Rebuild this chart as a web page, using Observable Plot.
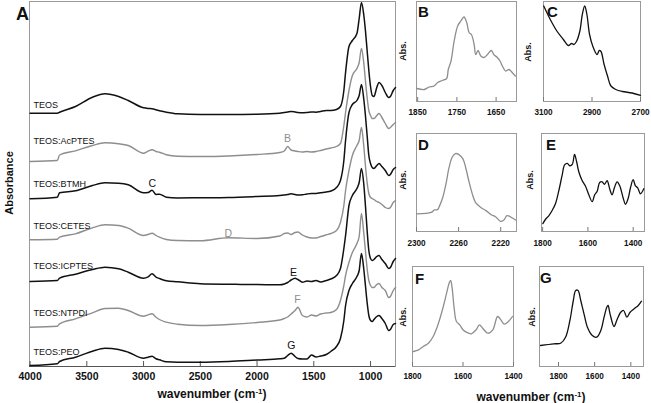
<!DOCTYPE html>
<html><head><meta charset="utf-8">
<script src="https://cdn.jsdelivr.net/npm/d3@7"></script>
<script src="https://cdn.jsdelivr.net/npm/@observablehq/plot@0.6"></script>
<style>
body{margin:0;background:#fff;}
#wrap{position:relative;width:651px;height:403px;overflow:hidden;font-family:"Liberation Sans",Arial,sans-serif;}
.pane{position:absolute;}
svg{overflow:visible}
</style></head><body>
<div id="wrap">
  <div id="main" class="pane" style="left:0;top:0"></div>
  <div id="pB" class="pane" style="left:414px;top:0px"></div>
  <div id="pC" class="pane" style="left:541px;top:0px"></div>
  <div id="pD" class="pane" style="left:414px;top:132px"></div>
  <div id="pE" class="pane" style="left:539px;top:132px"></div>
  <div id="pF" class="pane" style="left:410px;top:265px"></div>
  <div id="pG" class="pane" style="left:537px;top:265px"></div>
  <svg id="ann" width="651" height="403" style="position:absolute;left:0;top:0;pointer-events:none" font-family="Liberation Sans, Arial, sans-serif" fill="#111">
    <text x="16" y="20" font-size="18" font-weight="bold">A</text>
    <text transform="translate(12.5,183) rotate(-90)" text-anchor="middle" font-size="11" font-weight="bold">Absorbance</text>
    <text x="212" y="398" text-anchor="middle" font-size="12" font-weight="bold">wavenumber (cm<tspan dy="-4" font-size="8">-1</tspan><tspan dy="4">)</tspan></text>
    <text x="531" y="401" text-anchor="middle" font-size="12" font-weight="bold">wavenumber (cm<tspan dy="-4" font-size="8">-1</tspan><tspan dy="4">)</tspan></text>
    <g font-size="9" font-weight="bold" text-anchor="middle">
      <text transform="translate(406,51) rotate(-90)">Abs.</text>
      <text transform="translate(531,52) rotate(-90)">Abs.</text>
      <text transform="translate(406,180) rotate(-90)">Abs.</text>
      <text transform="translate(533,180) rotate(-90)">Abs.</text>
      <text transform="translate(406,317) rotate(-90)">Abs.</text>
      <text transform="translate(535,317) rotate(-90)">Abs.</text>
    </g>
    <g font-size="15" font-weight="bold">
      <text x="418" y="17">B</text>
      <text x="547" y="17">C</text>
      <text x="418" y="150">D</text>
      <text x="546" y="150">E</text>
      <text x="415" y="284">F</text>
      <text x="540" y="283">G</text>
    </g>
  </svg>
</div>
<script>
// ---------- main panel data ----------
const names = ["TEOS","TEOS:AcPTES","TEOS:BTMH","TEOS:CETES","TEOS:ICPTES","TEOS:NTPDI","TEOS:PEO"];
const offsets = [2.533, 2.05, 1.677, 1.267, 0.85, 0.393, 0.01];
const xTicks = [4000, 3500, 3000, 2500, 2000, 1500, 1000];
const wn = [4000, 3760, 3740, 3600, 3450, 3340, 3220, 3135, 3000, 2960, 2925, 2890, 2860, 2800, 2700, 2500, 2250, 2000, 1800, 1760, 1730, 1700, 1665, 1640, 1600, 1560, 1520, 1480, 1440, 1390, 1350, 1300, 1265, 1235, 1220, 1190, 1160, 1120, 1100, 1080, 1060, 1045, 1030, 1015, 1000, 985, 970, 945, 925, 900, 870, 840, 825, 800, 780];
const teos = [0, 0, 0.01, 0.067, 0.16, 0.194, 0.167, 0.127, 0.054, 0.047, 0.044, 0.034, 0.024, 0.01, -0.006, -0.013, -0.013, -0.01, 0, 0.007, 0.012, 0.017, 0.012, 0.007, 0.004, 0.007, 0.012, 0.01, 0.017, 0.027, 0.027, 0.037, 0.067, 0.227, 0.407, 0.667, 0.727, 0.797, 0.947, 1.107, 0.987, 0.827, 0.627, 0.427, 0.267, 0.177, 0.167, 0.257, 0.307, 0.277, 0.207, 0.157, 0.167, 0.227, 0.257];
const acptes = [0, 0.01, 0.065, 0.107, 0.16, 0.187, 0.177, 0.16, 0.083, 0.103, 0.117, 0.1, 0.093, 0.067, 0.053, 0.05, 0.055, 0.07, 0.09, 0.105, 0.15, 0.115, 0.105, 0.1, 0.095, 0.1, 0.095, 0.1, 0.11, 0.125, 0.135, 0.15, 0.18, 0.36, 0.49, 0.71, 0.86, 0.93, 0.99, 1.13, 0.99, 0.81, 0.64, 0.51, 0.46, 0.43, 0.43, 0.46, 0.48, 0.44, 0.38, 0.33, 0.34, 0.37, 0.39];
const btmh = [0, 0.016, 0.06, 0.08, 0.133, 0.16, 0.156, 0.14, 0.06, 0.063, 0.086, 0.043, 0.046, 0.016, 0.008, 0.01, 0.013, 0.023, 0.033, 0.038, 0.043, 0.05, 0.043, 0.038, 0.04, 0.048, 0.053, 0.053, 0.06, 0.068, 0.078, 0.113, 0.183, 0.383, 0.583, 0.863, 0.943, 0.983, 1.033, 1.143, 1.003, 0.833, 0.633, 0.433, 0.353, 0.313, 0.303, 0.333, 0.353, 0.323, 0.283, 0.233, 0.243, 0.293, 0.313];
const cetes = [0, 0.006, 0.026, 0.06, 0.12, 0.15, 0.143, 0.116, 0.043, 0.053, 0.066, 0.043, 0.026, 0.003, -0.007, -0.01, 0.02, 0.013, 0.038, 0.063, 0.068, 0.053, 0.073, 0.078, 0.048, 0.028, 0.018, 0.018, 0.033, 0.05, 0.063, 0.093, 0.173, 0.343, 0.493, 0.693, 0.843, 0.943, 0.993, 1.123, 0.943, 0.743, 0.573, 0.463, 0.423, 0.413, 0.403, 0.383, 0.373, 0.353, 0.323, 0.313, 0.323, 0.373, 0.393];
const icptes = [0, 0.01, 0.033, 0.073, 0.12, 0.143, 0.127, 0.093, 0.033, 0.047, 0.077, 0.043, 0.03, 0.007, -0.003, -0.023, -0.028, -0.03, -0.033, -0.025, -0.01, 0.015, 0.033, 0.02, -0.007, 0.005, 0, 0.01, -0.005, 0.01, 0.025, 0.06, 0.13, 0.33, 0.46, 0.76, 0.86, 0.93, 0.99, 1.13, 0.98, 0.76, 0.51, 0.31, 0.23, 0.21, 0.22, 0.25, 0.26, 0.22, 0.18, 0.13, 0.14, 0.2, 0.23];
const ntpdi = [0, 0.01, 0.034, 0.084, 0.144, 0.187, 0.19, 0.167, 0.11, 0.124, 0.134, 0.1, 0.077, 0.05, 0.03, 0.017, 0.027, 0.047, 0.072, 0.087, 0.102, 0.132, 0.167, 0.2, 0.117, 0.102, 0.122, 0.112, 0.132, 0.142, 0.147, 0.177, 0.267, 0.417, 0.517, 0.647, 0.747, 0.837, 0.907, 1.137, 0.947, 0.767, 0.587, 0.467, 0.417, 0.397, 0.397, 0.427, 0.437, 0.397, 0.367, 0.297, 0.307, 0.367, 0.397];
const peo = [0, 0.017, 0.04, 0.083, 0.143, 0.173, 0.16, 0.133, 0.073, 0.083, 0.093, 0.067, 0.057, 0.037, 0.033, 0.033, 0.04, 0.055, 0.067, 0.073, 0.1, 0.123, 0.09, 0.07, 0.065, 0.065, 0.105, 0.085, 0.095, 0.11, 0.14, 0.19, 0.27, 0.45, 0.6, 0.75, 0.82, 0.89, 0.95, 1.12, 0.97, 0.8, 0.63, 0.5, 0.45, 0.44, 0.46, 0.49, 0.5, 0.47, 0.42, 0.35, 0.36, 0.41, 0.42];
const spectra = [teos, acptes, btmh, cetes, icptes, ntpdi, peo];

// peak markers in main panel (letter, wavenumber, series index)
const peakLetters = ["B", "C", "D", "E", "F", "G"];
const peakWn = [1732, 2923, 2253, 1679, 1644, 1697];
const peakSeries = [1, 2, 3, 4, 5, 6];

// ---------- inset data ----------
const bWn = [1852, 1833, 1821, 1808, 1799, 1787, 1776, 1772, 1765, 1757, 1748, 1740, 1732, 1725, 1719, 1713, 1706, 1702, 1696, 1689, 1681, 1672, 1662, 1656, 1647, 1640, 1634, 1626, 1617, 1609, 1601];
const bAbs = [0.13, 0.12, 0.145, 0.155, 0.19, 0.21, 0.23, 0.32, 0.405, 0.605, 0.755, 0.805, 0.845, 0.79, 0.69, 0.67, 0.57, 0.47, 0.51, 0.455, 0.44, 0.47, 0.51, 0.47, 0.44, 0.405, 0.355, 0.305, 0.32, 0.29, 0.255];
const cWn = [3099, 3072, 3045, 3018, 2998, 2984, 2975, 2964, 2950, 2940, 2930, 2921, 2910, 2897, 2879, 2870, 2863, 2850, 2836, 2822, 2802, 2775, 2735, 2700];
const cAbs = [0.955, 0.82, 0.705, 0.62, 0.56, 0.58, 0.57, 0.6, 0.705, 0.87, 0.955, 0.87, 0.67, 0.555, 0.47, 0.51, 0.5, 0.37, 0.255, 0.155, 0.12, 0.1, 0.085, 0.062];
const dWn = [2300, 2286, 2283, 2280, 2278, 2275, 2272, 2269, 2266, 2263, 2260, 2256, 2253, 2250, 2247, 2244, 2239, 2234, 2229, 2225, 2220, 2217, 2214, 2209, 2206];
const dAbs = [0.18, 0.195, 0.22, 0.223, 0.264, 0.35, 0.487, 0.657, 0.76, 0.795, 0.787, 0.743, 0.64, 0.503, 0.384, 0.298, 0.246, 0.213, 0.171, 0.151, 0.103, 0.117, 0.161, 0.138, 0.117];
const eWn = [1799, 1787, 1773, 1758, 1743, 1729, 1714, 1703, 1691, 1680, 1669, 1659, 1650, 1640, 1625, 1611, 1596, 1581, 1570, 1559, 1548, 1537, 1527, 1515, 1503, 1493, 1483, 1471, 1459, 1444, 1434, 1422, 1412, 1400, 1390, 1380, 1368, 1353];
const eAbs = [0.08, 0.125, 0.16, 0.214, 0.286, 0.411, 0.572, 0.679, 0.696, 0.671, 0.685, 0.786, 0.714, 0.607, 0.518, 0.465, 0.375, 0.304, 0.375, 0.411, 0.5, 0.507, 0.482, 0.518, 0.428, 0.375, 0.446, 0.507, 0.465, 0.339, 0.278, 0.339, 0.446, 0.529, 0.465, 0.446, 0.385, 0.436];
const fWn = [1796, 1776, 1757, 1737, 1718, 1704, 1691, 1678, 1665, 1655, 1649, 1643, 1635, 1626, 1613, 1600, 1587, 1567, 1548, 1535, 1522, 1502, 1482, 1463, 1450, 1437, 1420, 1404];
const fAbs = [0.15, 0.167, 0.2, 0.233, 0.3, 0.383, 0.483, 0.6, 0.733, 0.833, 0.86, 0.783, 0.583, 0.45, 0.417, 0.367, 0.343, 0.327, 0.367, 0.417, 0.383, 0.333, 0.367, 0.5, 0.467, 0.423, 0.45, 0.5];
const gWn = [1899, 1826, 1788, 1761, 1737, 1718, 1705, 1692, 1677, 1659, 1640, 1613, 1589, 1566, 1548, 1533, 1526, 1515, 1493, 1478, 1456, 1440, 1422, 1404, 1382, 1359, 1341];
const gAbs = [0.21, 0.227, 0.233, 0.293, 0.46, 0.66, 0.76, 0.76, 0.66, 0.527, 0.393, 0.31, 0.293, 0.36, 0.493, 0.593, 0.61, 0.527, 0.4, 0.46, 0.543, 0.56, 0.493, 0.543, 0.577, 0.61, 0.653];

// ---------- styling / layout ----------
const BLACK = "#111";
const GRAY = "#8e8e8e";
const FONT = "Liberation Sans, Arial, sans-serif";
const nameLift = [0.077, 0.2, 0.148, 0.133, 0.155, 0.142, 0.135];
const letterLift = [0.23, 0.153, 0.063, 0.09, 0.277, 0.2];
const colorOf = i => (i % 2 ? GRAY : BLACK);

const rows = names.flatMap((n, i) => wn.map((w, j) => ({series: n, i, wn: w, a: spectra[i][j] + offsets[i]})));

const main = Plot.plot({
  width: 400, height: 385,
  marginLeft: 29, marginRight: 5, marginTop: 1, marginBottom: 19,
  style: {fontFamily: FONT, fontSize: "10.5px", fontWeight: "bold", color: BLACK, background: "transparent", overflow: "visible"},
  x: {domain: [4005, 780], ticks: xTicks, tickSize: 0, tickPadding: 6, tickFormat: "d", label: null},
  y: {domain: [0, 3.65], axis: null},
  color: {type: "identity"},
  marks: [
    Plot.frame({stroke: "#9a9a9a"}),
    Plot.ruleY([0], {stroke: "#555"}),
    Plot.tickX(xTicks, {x: d => d, insetTop: 360, stroke: "#555"}),
    Plot.line(rows.filter(d => d.i % 2 === 1), {x: "wn", y: "a", z: "series", stroke: GRAY, strokeWidth: 1.4, curve: "monotone-x"}),
    Plot.line(rows.filter(d => d.i % 2 === 0), {x: "wn", y: "a", z: "series", stroke: BLACK, strokeWidth: 1.5, curve: "monotone-x"}),
    Plot.text(names, {frameAnchor: "left", dx: 4, y: (d, i) => offsets[i] + nameLift[i], text: d => d, textAnchor: "start",
      fill: BLACK, fontWeight: "normal", fontSize: 9}),
    Plot.text(peakLetters, {x: (d, i) => peakWn[i], y: (d, i) => offsets[peakSeries[i]] + letterLift[i], text: d => d,
      fill: (d, i) => colorOf(peakSeries[i]), fontWeight: "normal", fontSize: 10.5})
  ]
});
document.getElementById("main").append(main);

function inset(id, xs, ys, domain, ticks, color, w, h, pad) {
  const data = xs.map((x, i) => ({x, y: ys[i]}));
  const p = Plot.plot({
    width: w + 4, height: h + 21,
    marginLeft: 2, marginRight: 2, marginTop: 1, marginBottom: 20,
    style: {fontFamily: FONT, fontSize: "8.2px", fontWeight: "bold", color: BLACK, background: "transparent", overflow: "visible"},
    x: {domain, ticks, tickSize: 0, tickPadding: pad, tickFormat: "d", label: null},
    y: {domain: [0, 1], axis: null},
    marks: [
      Plot.frame({stroke: "#9a9a9a"}),
      Plot.tickX(ticks, {x: d => d, insetTop: h - 4, stroke: "#777"}),
      Plot.line(data, {x: "x", y: "y", stroke: color, strokeWidth: 1.3, curve: "catmull-rom"})
    ]
  });
  document.getElementById(id).append(p);
}
inset("pB", bWn, bAbs, [1853, 1598], [1850, 1750, 1650], GRAY, 100, 100, 8);
inset("pC", cWn, cAbs, [3100, 2700], [3100, 2900, 2700], BLACK, 97, 100, 8);
inset("pD", dWn, dAbs, [2300, 2205], [2300, 2260, 2220], GRAY, 100, 98, 9);
inset("pE", eWn, eAbs, [1805, 1350], [1800, 1600, 1400], BLACK, 103, 98, 9);
inset("pF", fWn, fAbs, [1800, 1400], [1800, 1600, 1400], GRAY, 101, 100, 7);
inset("pG", gWn, gAbs, [1905, 1330], [1800, 1600, 1400], BLACK, 104, 100, 7);
</script>
</body></html>
